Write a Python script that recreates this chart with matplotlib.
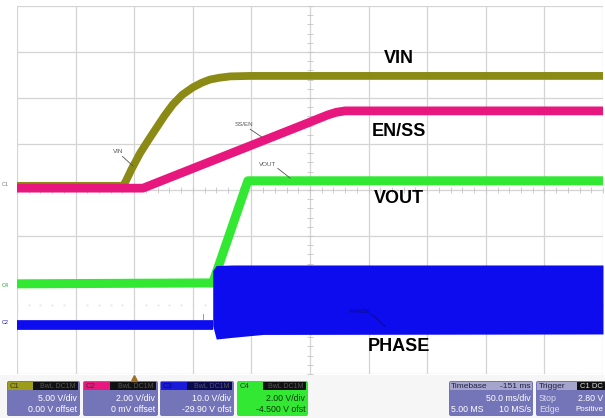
import matplotlib
matplotlib.use('Agg')
import matplotlib.pyplot as plt
from matplotlib.patches import FancyBboxPatch, Rectangle

plt.rcParams['font.family'] = ['Liberation Sans', 'DejaVu Sans']

# ---- trace data, in screen divisions (x: 0..10 div, y: -4..4 div) ----
vin_t = [0, 1.81, 1.86, 1.95, 2.10, 2.25, 2.39, 2.52, 2.66, 2.82, 3.00, 3.15, 3.29, 3.45, 3.64, 3.98, 10]
vin_v = [0.09, 0.09, 0.20, 0.44, 0.80, 1.10, 1.37, 1.62, 1.86, 2.07, 2.23, 2.33, 2.40, 2.44, 2.47, 2.48, 2.48]

en_t = [0, 2.15, 4.83, 5.30, 5.45, 5.60, 10]
en_v = [0.04, 0.04, 1.39, 1.63, 1.69, 1.72, 1.72]

vout_t = [0, 3.34, 3.94, 10]
vout_v = [-2.04, -2.02, 0.20, 0.20]

ph_flat_t = [0, 3.34]
ph_flat_v = [-2.93, -2.93]
ph_band_t = [3.34, 3.40, 3.70, 4.20, 10]
ph_band_hi = [-1.75, -1.64, -1.63, -1.63, -1.63]
ph_band_lo = [-2.95, -3.24, -3.20, -3.14, -3.13]

trace_labels = ['VIN', 'EN/SS', 'VOUT', 'PHASE']
label_x = [6.52, 6.52, 6.52, 6.52]
label_y = [2.85, 1.27, -0.185, -3.40]

ch_names = ['C1', 'C2', 'C3', 'C4']
ch_scale = ['5.00 V/div', '2.00 V/div', '10.0 V/div', '2.00 V/div']
ch_offset = ['0.00 V offset', '0 mV offset', '-29.90 V ofst', '-4.500 V ofst']
timebase = ['Timebase', '-151 ms', '50.0 ms/div', '5.00 MS', '10 MS/s']
trigger = ['Trigger', 'C1 DC', 'Stop', '2.80 V', 'Edge', 'Positive']

C_VIN = '#8A8A14'
C_EN = '#E8177D'
C_VOUT = '#33E833'
C_PH = '#0C0CEE'
BOX = '#7474B8'

W, H = 605, 418
fig = plt.figure(figsize=(W / 100, H / 100), dpi=100, facecolor='white')
ax = fig.add_axes([17 / W, 1 - 374 / H, 586 / W, 368 / H])
ax.set_xlim(0, 10)
ax.set_ylim(-4, 4)
ax.set_facecolor('white')
for s in ax.spines.values():
    s.set_visible(False)
ax.set_xticks([])
ax.set_yticks([])

# grid
for i in range(11):
    ax.axvline(i, color='#D4D4D4', lw=0.9, zorder=0)
for j in range(-4, 5):
    ax.axhline(j, color='#D4D4D4', lw=0.9, zorder=0)
# centre minor ticks
mt = [k * 0.2 for k in range(0, 51)]
ax.plot(mt, [0] * len(mt), ls='none', marker='|', ms=4, color='#C4C4C4', mew=0.6, zorder=0)
mty = [-4 + k * 0.2 for k in range(0, 41)]
ax.plot([5] * len(mty), mty, ls='none', marker='_', ms=4, color='#C4C4C4', mew=0.6, zorder=0)
ax.plot(mt, [-2.5] * len(mt), ls='none', marker='.', ms=0.8, color='#DDDDDD', zorder=0)

# traces
ax.plot(vin_t, vin_v, color=C_VIN, lw=5.6, solid_capstyle='butt', solid_joinstyle='round', zorder=2)
ax.plot(en_t, en_v, color=C_EN, lw=6.3, solid_capstyle='butt', zorder=3)
ax.plot(vout_t, vout_v, color=C_VOUT, lw=6.5, solid_capstyle='butt', zorder=2)
ax.plot(ph_flat_t, ph_flat_v, color=C_PH, lw=7, solid_capstyle='butt', zorder=3)
ax.fill_between(ph_band_t, ph_band_lo, ph_band_hi, color=C_PH, lw=0, zorder=3)

# big labels
for txt, x, y in zip(trace_labels, label_x, label_y):
    ax.text(x, y, txt, fontsize=13, fontweight='bold', ha='center', va='center',
            color='black', zorder=5)

# small scope annotations
small = dict(fontsize=4.5, color='#555555', ha='center', va='center', zorder=5)
ax.text(1.72, 0.83, 'VIN', **small)
ax.plot([1.80, 1.98], [0.73, 0.52], color='#555555', lw=0.6, zorder=5)
ax.text(3.87, 1.43, 'SS/EN', **small)
ax.plot([3.98, 4.18], [1.32, 1.15], color='#555555', lw=0.6, zorder=5)
ax.text(4.28, 0.55, 'VOUT', **small)
ax.plot([4.45, 4.66], [0.47, 0.26], color='#555555', lw=0.6, zorder=5)
ax.text(5.85, -2.65, 'PHASE', fontsize=4.5, color='#0A0A80', ha='center', va='center', zorder=5)
ax.plot([6.05, 6.28], [-2.70, -2.96], color='#0A0A80', lw=0.6, zorder=5)
ax.plot([3.17, 3.17], [-2.70, -2.80], color='#888888', lw=0.6, zorder=5)

# channel markers at left
ax.text(-0.2, 0.12, 'C1', fontsize=4, color='#777777', ha='center', va='center', clip_on=False)
ax.text(-0.2, -2.08, 'C4', fontsize=4, color='#22AA22', ha='center', va='center', clip_on=False)
ax.text(-0.2, -2.87, 'C2', fontsize=4, color='#1414C0', ha='center', va='center', clip_on=False)
ax.plot([2.0], [-4.08], marker='^', ms=4, color='#A07028', clip_on=False, zorder=6)

# ---- bottom status bar (pixel overlay) ----
ov = fig.add_axes([0, 0, 1, 1], zorder=-1)
ov.set_xlim(0, W)
ov.set_ylim(H, 0)
ov.axis('off')
ov.add_patch(Rectangle((0, 375), W, 43, color='#F6F6F6', lw=0))

def box(x0, x1, body, head_left, head_right, split):
    ov.add_patch(FancyBboxPatch((x0, 381), x1 - x0, 35, boxstyle='round,pad=0,rounding_size=2',
                                fc=body, ec='none'))
    ov.add_patch(Rectangle((x0 + 1, 382), split - x0 - 1, 8, fc=head_left, ec='none'))
    ov.add_patch(Rectangle((split, 382), x1 - split - 2, 8, fc=head_right, ec='none'))

boxes = [(7, 80, 33, '#9C9C18'), (83, 158, 110, C_EN), (160, 234, 187, '#1A1AD8'), (237, 308, 263, C_VOUT)]
for (x0, x1, sp, hc), nm, sc, off in zip(boxes, ch_names, ch_scale, ch_offset):
    body = C_VOUT if nm == 'C4' else BOX
    tc = '#0A3A0A' if nm == 'C4' else 'white'
    box(x0, x1, body, hc, '#111111' if nm != 'C3' else '#0A0A50', sp)
    ov.text(x0 + 3, 386, nm, fontsize=5.5, color='#333333' if nm != 'C3' else '#0A0A60', va='center')
    ov.text(x1 - 4, 386, 'BwL DC1M', fontsize=5, color='#555555', va='center', ha='right')
    ov.text(x1 - 3, 398.5, sc, fontsize=6.3, color=tc, va='center', ha='right')
    ov.text(x1 - 3, 409.5, off, fontsize=6.3, color=tc, va='center', ha='right')

# timebase box
ov.add_patch(FancyBboxPatch((449, 381), 84, 35, boxstyle='round,pad=0,rounding_size=2', fc=BOX, ec='none'))
ov.add_patch(Rectangle((450, 382), 82, 8, fc='#A4A4CC', ec='none'))
ov.text(451, 386, timebase[0], fontsize=6, color='#222244', va='center')
ov.text(531, 386, timebase[1], fontsize=6, color='#222244', va='center', ha='right')
ov.text(531, 398.5, timebase[2], fontsize=6.3, color='white', va='center', ha='right')
ov.text(451, 409.5, timebase[3], fontsize=6.3, color='white', va='center')
ov.text(531, 409.5, timebase[4], fontsize=6.3, color='white', va='center', ha='right')

# trigger box
ov.add_patch(FancyBboxPatch((536, 381), 72, 35, boxstyle='round,pad=0,rounding_size=2', fc=BOX, ec='none'))
ov.add_patch(Rectangle((537, 382), 40, 8, fc='#A4A4CC', ec='none'))
ov.add_patch(Rectangle((577, 382), 30, 8, fc='#111111', ec='none'))
ov.text(539, 386, trigger[0], fontsize=6, color='#222244', va='center')
ov.text(580, 386, trigger[1], fontsize=5.5, color='#DDDDDD', va='center')
ov.text(539, 398.5, trigger[2], fontsize=6.3, color='#D8D8F0', va='center')
ov.text(603, 398.5, trigger[3], fontsize=6.3, color='white', va='center', ha='right')
ov.text(539, 409.5, trigger[4], fontsize=6.3, color='#D8D8F0', va='center')
ov.text(603, 409.5, trigger[5], fontsize=5.8, color='white', va='center', ha='right')

fig.savefig('out.png', dpi=100, facecolor='white')
